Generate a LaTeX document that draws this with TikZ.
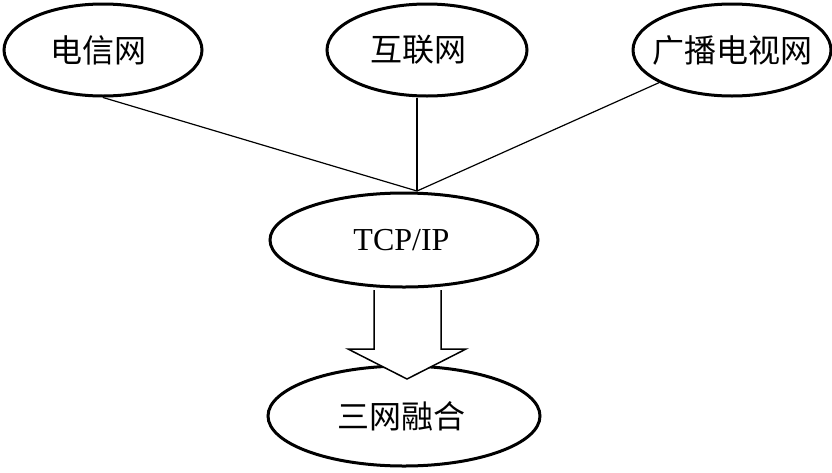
\documentclass[tikz,border=0pt]{standalone}
\usepackage{fontspec}
\setmainfont{Liberation Serif}
\newfontfamily\cjk{Noto Sans CJK SC}
\usetikzlibrary{shapes.geometric,calc}
\tikzset{
  oval/.style={ellipse,draw,line width=3pt,inner sep=0pt,fill=white,font=\fontsize{32}{36}\selectfont},
  thinline/.style={line width=1.2pt},
  blockarrow/.style={line width=1.5pt,fill=white,line join=miter}
}
\begin{document}
\begin{tikzpicture}[x=1pt,y=-1pt]
\useasboundingbox (0,0) rectangle (832,472);
\node[oval,minimum width=198pt,minimum height=92pt] (tel) at (103,50) {\makebox[0pt]{\cjk\hspace*{-10pt}电信网}};
\node[oval,minimum width=200pt,minimum height=92pt] (net) at (427,50) {\makebox[0pt]{\cjk\hspace*{-18pt}互联网}};
\node[oval,minimum width=198pt,minimum height=92pt] (tv) at (732,50) {\makebox[0pt]{\cjk 广播电视网}};
\node[oval,minimum width=268pt,minimum height=94pt] (tcp) at (404,240) {\makebox[0pt]{\hspace*{-5pt}TCP/IP}};
\node[oval,minimum width=272pt,minimum height=100pt] (sw) at (404,416) {\makebox[0pt]{\cjk\hspace*{-5pt}三网融合}};
\coordinate (hub) at (417,191);
\draw[thinline] (tel.south) -- (hub);
\draw[thinline] (hub |- net.south) -- (hub);
\draw[thinline] (tv) -- (hub);
% block arrow
\coordinate (top) at ($(tcp.south)+(0,1.6)$);
\filldraw[blockarrow] (374,0 |- top) -- (374,349) -- (348,349) -- (407,379) -- (466,349) -- (441,349) -- (441,0 |- top);
\end{tikzpicture}
\end{document}
